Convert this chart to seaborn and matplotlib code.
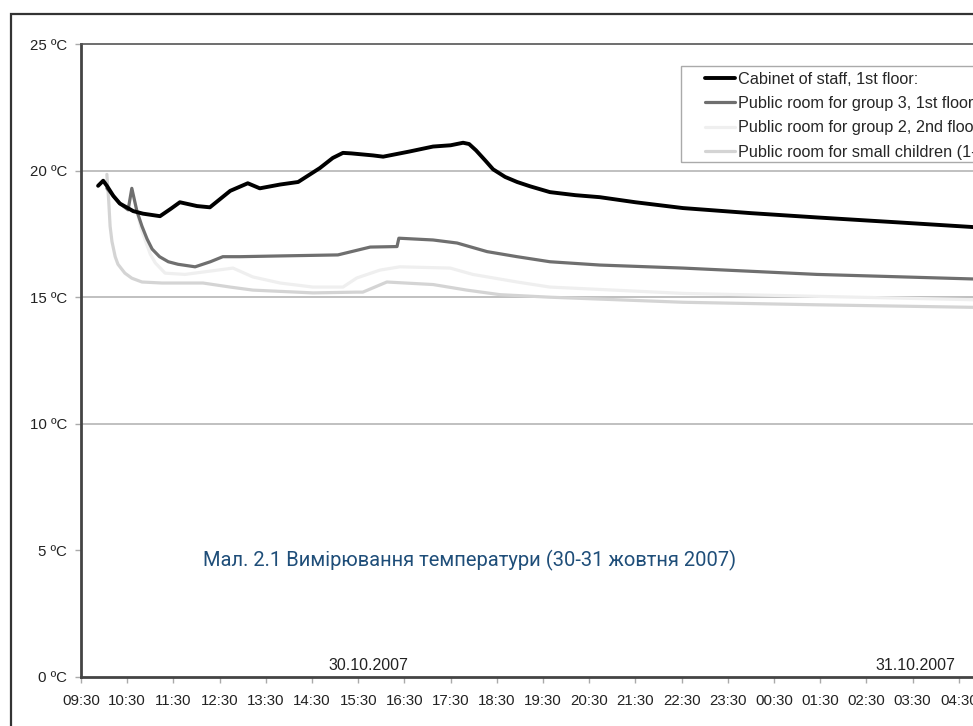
import pandas as pd
import seaborn as sns
import matplotlib.pyplot as plt
from matplotlib.patches import Rectangle

# hours after 09:30 on 30.10.2007
hour_labels = ['09:30', '10:30', '11:30', '12:30', '13:30', '14:30', '15:30', '16:30', '17:30', '18:30',
               '19:30', '20:30', '21:30', '22:30', '23:30', '00:30', '01:30', '02:30', '03:30', '04:30']

staff_h = [0.37, 0.48, 0.56, 0.70, 0.84, 1.13, 1.34, 1.71, 1.95, 2.14, 2.51, 2.79, 3.23, 3.61, 3.87, 4.31,
           4.70, 5.17, 5.45, 5.67, 5.85, 6.32, 6.54, 7.1, 7.62, 8.0, 8.27, 8.40, 8.55, 8.75, 8.92, 9.18,
           9.44, 9.72, 10.15, 10.7, 11.23, 12.0, 13.03, 14.5, 15.93, 17.73, 19.31]
staff_t = [19.4, 19.6, 19.4, 19.0, 18.7, 18.4, 18.3, 18.2, 18.5, 18.75, 18.6, 18.55, 19.2, 19.5, 19.3, 19.45,
           19.55, 20.1, 20.5, 20.7, 20.68, 20.6, 20.55, 20.75, 20.95, 21.0, 21.1, 21.05, 20.8, 20.4, 20.05, 19.75,
           19.55, 19.38, 19.15, 19.03, 18.95, 18.75, 18.52, 18.32, 18.15, 17.95, 17.77]

group3_h = [0.56, 0.84, 1.02, 1.10, 1.21, 1.32, 1.43, 1.54, 1.70, 1.89, 2.1, 2.47, 2.8, 3.07, 3.44, 4.31,
            5.56, 6.26, 6.84, 6.88, 7.62, 8.14, 8.79, 9.44, 10.15, 11.23, 13.03, 15.93, 19.31]
group3_t = [19.3, 18.7, 18.45, 19.3, 18.4, 17.8, 17.3, 16.9, 16.6, 16.4, 16.3, 16.2, 16.4, 16.6, 16.6, 16.63,
            16.67, 16.98, 17.0, 17.33, 17.26, 17.14, 16.8, 16.6, 16.4, 16.27, 16.15, 15.9, 15.72]

group2_h = [1.21, 1.30, 1.39, 1.50, 1.61, 1.82, 2.25, 3.29, 3.72, 4.31, 5.02, 5.67, 5.97, 6.47, 6.90, 7.99,
            8.48, 9.44, 10.15, 13.03, 19.31]
group2_t = [18.4, 17.7, 17.25, 16.7, 16.35, 15.95, 15.9, 16.15, 15.8, 15.56, 15.4, 15.4, 15.76, 16.07, 16.2,
            16.15, 15.9, 15.6, 15.4, 15.15, 14.9]

small_h = [0.56, 0.60, 0.63, 0.67, 0.74, 0.80, 0.95, 1.10, 1.32, 1.75, 2.64, 3.23, 3.72, 5.02, 5.97, 6.10,
           6.62, 7.62, 8.35, 9.07, 10.15, 13.03, 15.93, 19.31]
small_t = [19.85, 18.8, 17.8, 17.2, 16.6, 16.3, 15.95, 15.75, 15.6, 15.56, 15.56, 15.4, 15.28, 15.17, 15.2,
           15.2, 15.6, 15.5, 15.28, 15.1, 15.0, 14.8, 14.7, 14.6]

series_names = ['Cabinet of staff, 1st floor:', 'Public room for group 3, 1st floor',
                'Public room for group 2, 2nd floor', 'Public room for small children (1-3)']

sns.set_style('white')
plt.rcParams['font.family'] = ['Liberation Sans', 'DejaVu Sans']

fig = plt.figure(figsize=(9.73, 7.26), dpi=100)
ax = fig.add_axes([81 / 973, 1 - 677 / 726, 1 - 81 / 973, (677 - 44) / 726])

# outer frame (cut off at right and bottom)
fig.add_artist(Rectangle((11 / 973, -0.2), 1.5, 1 - 14 / 726 + 0.2, transform=fig.transFigure,
                         fill=False, ec='#333333', lw=1.6))

styles = [('#000000', 2.8), ('#6f6f6f', 2.3), ('#efefef', 2.3), ('#d4d4d4', 2.3)]
data = [(staff_h, staff_t), (group3_h, group3_t), (group2_h, group2_t), (small_h, small_t)]
# lighter lines first so the darker ones sit on top
for i in [3, 2, 1, 0]:
    h, t = data[i]
    col, lw = styles[i]
    sns.lineplot(x=h, y=t, ax=ax, color=col, lw=lw, label=series_names[i], sort=False)

ax.set_xlim(0, (973 - 81) / 46.2)
ax.set_ylim(0, 25)
ax.set_xticks(range(len(hour_labels)))
ax.set_xticklabels(hour_labels, fontsize=10.8, color='#222222')
ax.set_yticks([0, 5, 10, 15, 20, 25])
ax.set_yticklabels([f'{v} ºC' for v in [0, 5, 10, 15, 20, 25]], fontsize=10.8, color='#222222')
ax.tick_params(axis='x', length=4, width=1, color='#aaaaaa', pad=8, bottom=True)
ax.tick_params(axis='y', length=4, width=1, color='#aaaaaa', pad=6, left=True)

for g in [10, 15, 20]:
    ax.axhline(g, color='#b5b5b5', lw=1.2, zorder=0)

for side in ['left', 'bottom']:
    ax.spines[side].set_color('#444444')
    ax.spines[side].set_linewidth(2)
ax.spines['top'].set_color('#555555')
ax.spines['top'].set_linewidth(1.2)
ax.spines['right'].set_visible(False)

ax.text(6.21, 0.47, '30.10.2007', ha='center', va='center', fontsize=11.5, color='#222222')
ax.text(18.07, 0.47, '31.10.2007', ha='center', va='center', fontsize=11.5, color='#222222')

# legend (frame drawn separately so it can run off the figure edge)
handles, labels = ax.get_legend_handles_labels()
order = [labels.index(n) for n in series_names]
ax.legend([handles[k] for k in order], [labels[k] for k in order],
          loc='upper left', bbox_to_anchor=((703 - 81) / 892, (677 - 70) / 633),
          frameon=False, fontsize=11.7, handlelength=1.85, handletextpad=0.2,
          labelspacing=0.58, borderpad=0.1, borderaxespad=0)
ax.add_patch(Rectangle(((681 - 81) / 892, (677 - 162) / 633), 0.5, (162 - 66) / 633,
                       transform=ax.transAxes, fill=False, ec='#aaaaaa', lw=1, clip_on=False))

fig.text(470 / 973, 1 - 560 / 726, 'Мал. 2.1 Вимірювання температури (30-31 жовтня 2007)',
         ha='center', va='center', fontsize=14.5, color='#1f4e79', family=['Roboto', 'DejaVu Sans'])

ax.set_xlabel('')
ax.set_ylabel('')
fig.savefig('out.png', dpi=100)
